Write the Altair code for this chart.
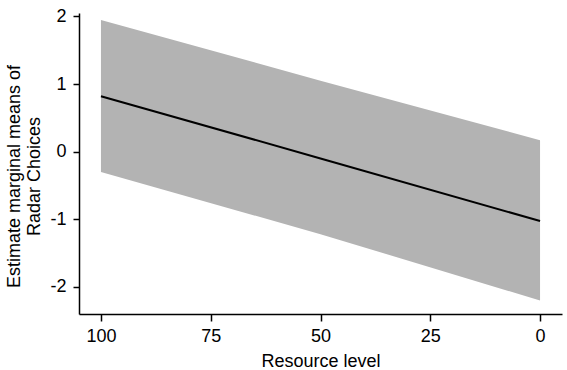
import altair as alt
import pandas as pd

# Resource level and estimated marginal means with 95% CI
resource_level = [100, 50, 0]
estimate = [0.82, -0.10, -1.025]
ci_lower = [-0.30, -1.22, -2.20]
ci_upper = [1.945, 1.05, 0.17]

df = pd.DataFrame({
    "resource": resource_level,
    "estimate": estimate,
    "lower": ci_lower,
    "upper": ci_upper,
})

x_enc = alt.X(
    "resource:Q",
    scale=alt.Scale(domain=[-5, 105], reverse=True, nice=False, zero=False),
    axis=alt.Axis(
        values=[0, 25, 50, 75, 100],
        title="Resource level",
        grid=False,
        tickSize=7,
        labelPadding=6,
        titlePadding=7,
    ),
)

y_scale = alt.Scale(domain=[-2.4, 2.05], nice=False, zero=False)

band = alt.Chart(df).mark_area(color="#b3b3b3", opacity=1).encode(
    x=x_enc,
    y=alt.Y(
        "lower:Q",
        scale=y_scale,
        axis=alt.Axis(
            values=[-2, -1, 0, 1, 2],
            labelExpr="toString(datum.value)",
            title=["Estimate marginal means of", "Radar Choices"],
            grid=False,
            tickSize=6,
            labelPadding=7,
            titleBaseline="top",
            titleAlign="center",
            titleX=-74,
            titleY=163,
            titleLineHeight=20,
        ),
    ),
    y2="upper:Q",
)

line = alt.Chart(df).mark_line(color="black", strokeWidth=2).encode(
    x="resource:Q",
    y=alt.Y("estimate:Q", scale=y_scale),
)

chart = (
    alt.layer(band, line)
    .properties(
        width=483,
        height=301,
        autosize=alt.AutoSizeParams(type="none"),
        padding={"left": 79, "top": 13, "right": 5, "bottom": 56},
        background="white",
    )
    .configure_view(strokeWidth=0)
    .configure_axis(
        domainColor="black",
        domainWidth=1.5,
        tickColor="black",
        tickWidth=1.5,
        labelFont="Liberation Sans",
        labelFontSize=18,
        labelColor="black",
        titleFont="Liberation Sans",
        titleFontSize=18,
        titleFontWeight="normal",
        titleColor="black",
    )
)

chart.save("out.html", embed_options={"renderer": "svg", "actions": False})
